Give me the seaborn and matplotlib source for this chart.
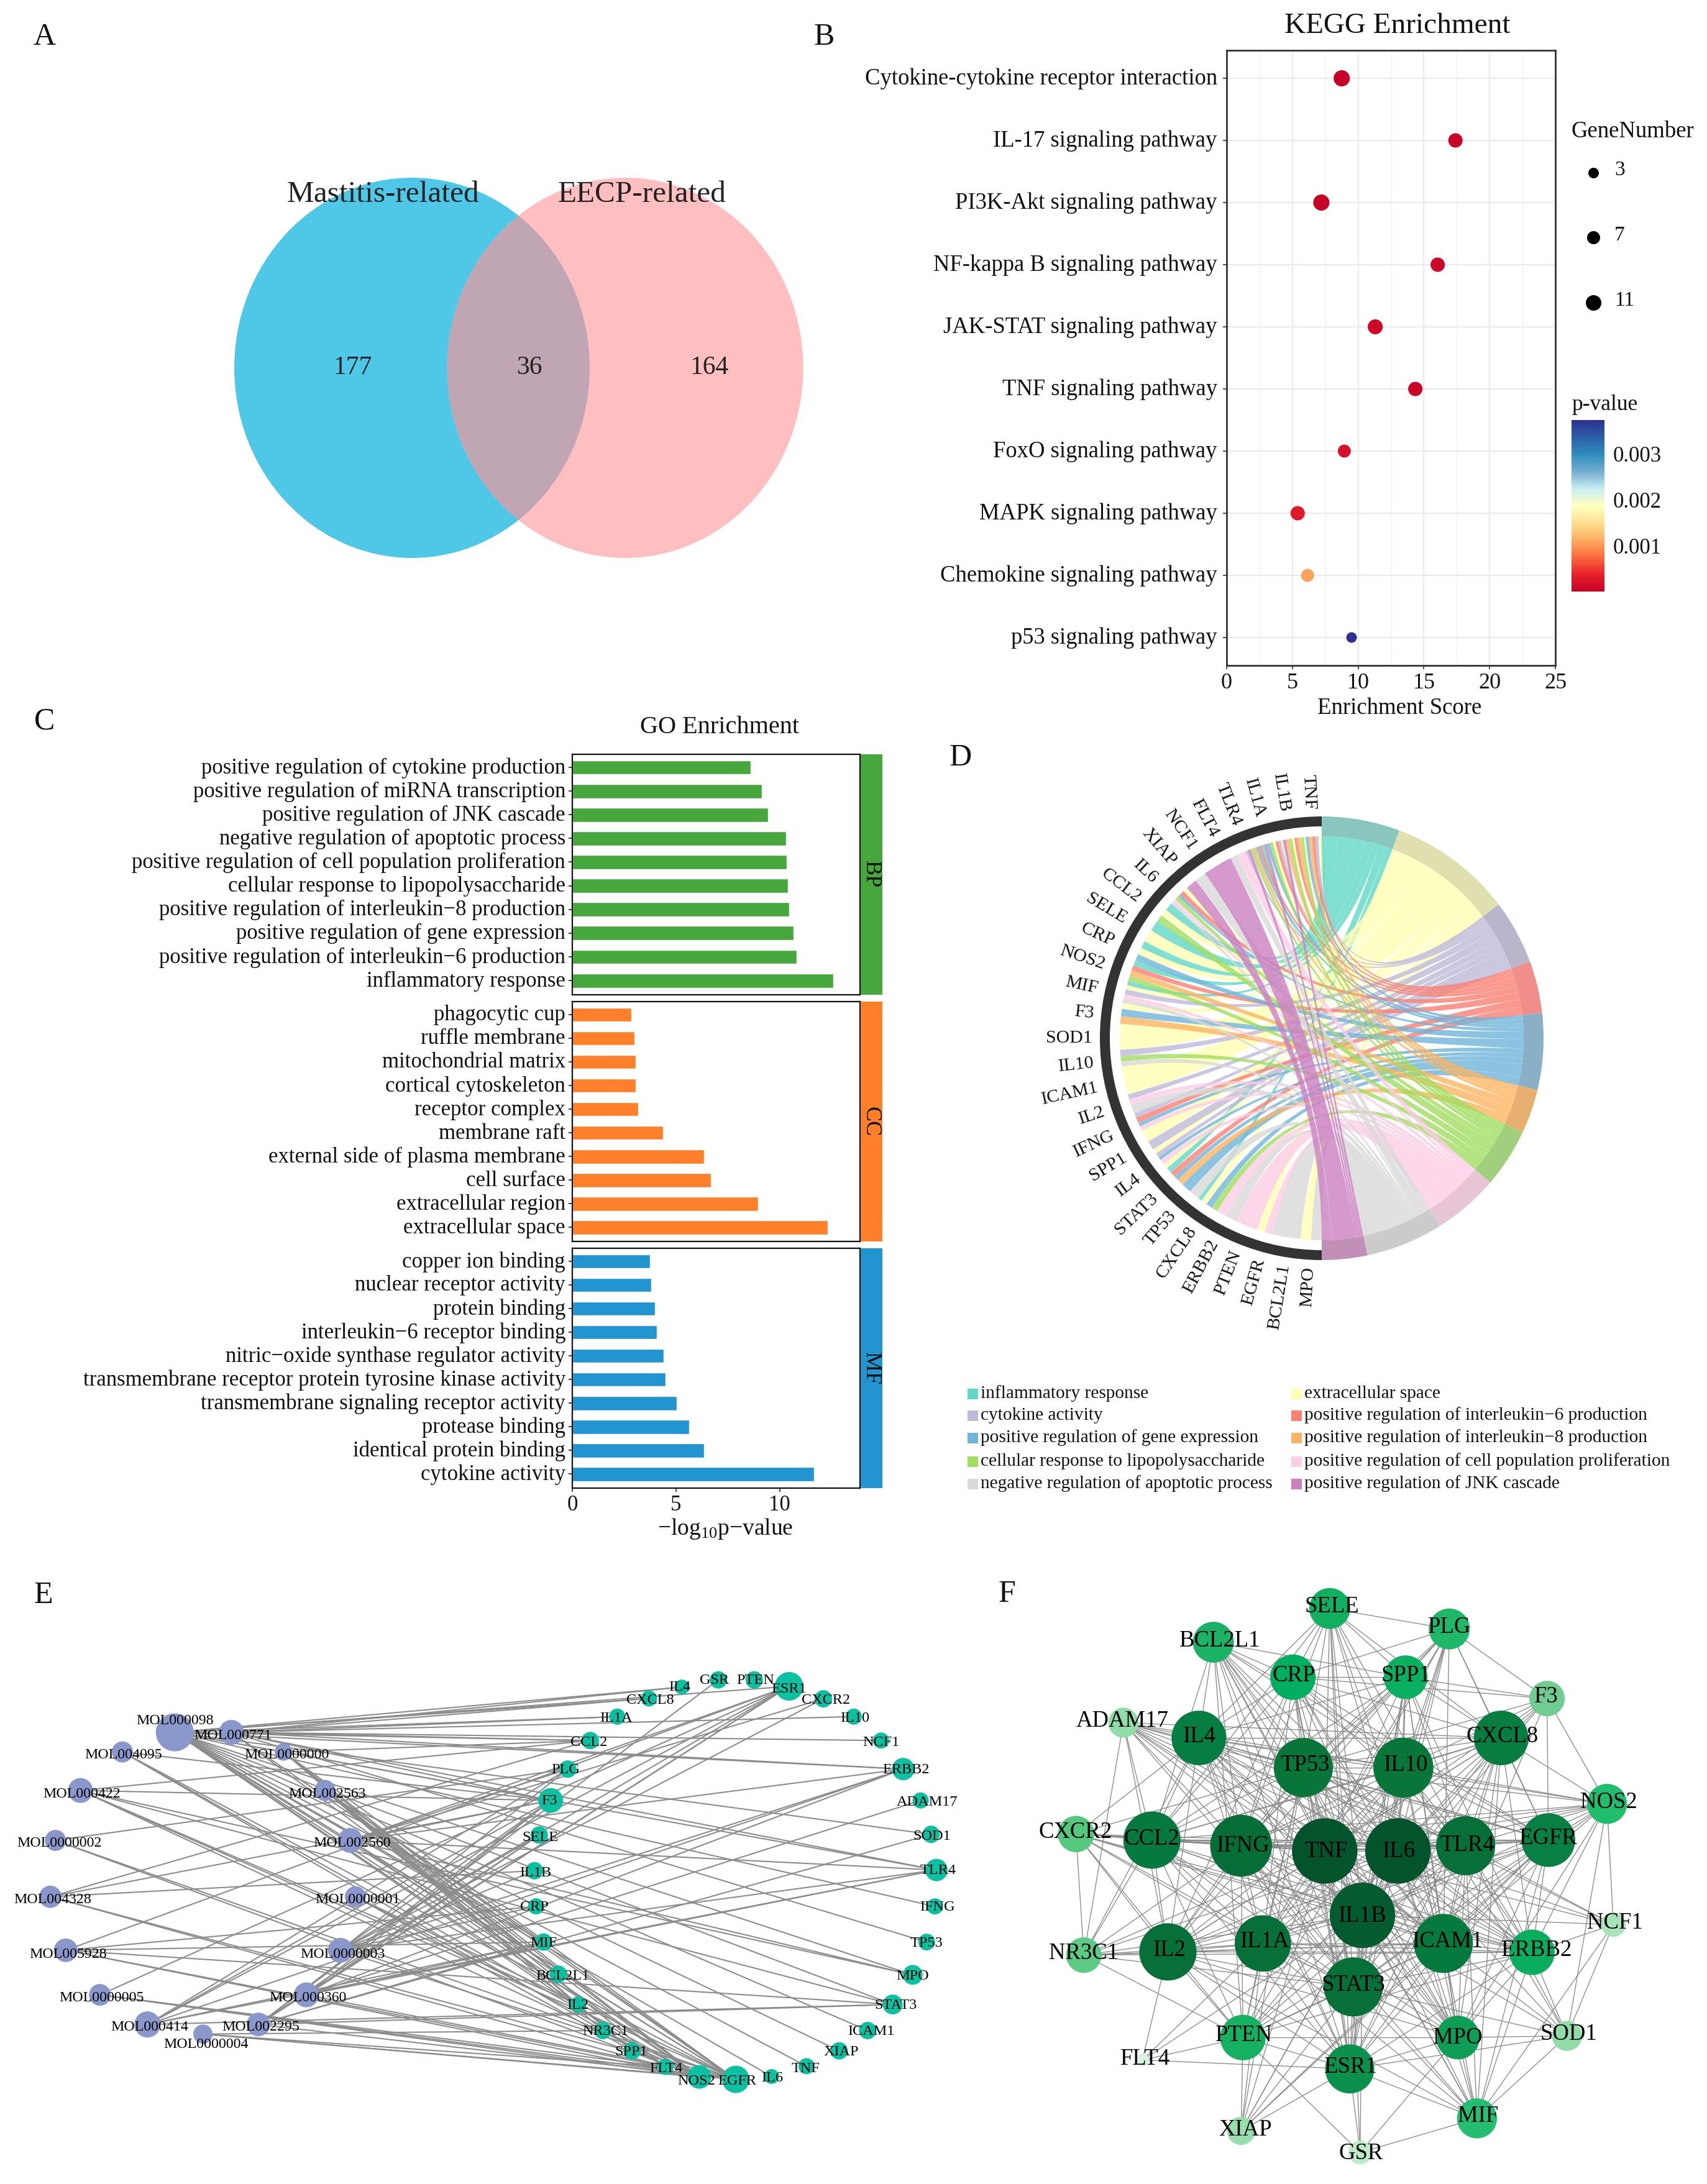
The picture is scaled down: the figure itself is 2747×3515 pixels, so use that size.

import itertools
import numpy as np, pandas as pd
import matplotlib
matplotlib.use('Agg')
import matplotlib.pyplot as plt
import matplotlib as mpl
from matplotlib.patches import Ellipse, Wedge, PathPatch, Rectangle
from matplotlib.path import Path
from matplotlib.collections import LineCollection
from matplotlib.colors import LinearSegmentedColormap, Normalize
from matplotlib.transforms import ScaledTranslation
import seaborn as sns

sns.set_theme(style='white')
plt.rcParams['font.family'] = ['Liberation Serif', 'DejaVu Sans']
plt.rcParams['mathtext.default'] = 'regular'
plt.rcParams['axes.unicode_minus'] = True

W, H = 2747, 3515
# ---------- data ----------
VENN_NAMES = ['Mastitis-related', 'EECP-related']
VENN_COUNTS = [177, 36, 164]

KEGG_TERMS = ['Cytokine-cytokine receptor interaction', 'IL-17 signaling pathway', 'PI3K-Akt signaling pathway',
              'NF-kappa B signaling pathway', 'JAK-STAT signaling pathway', 'TNF signaling pathway',
              'FoxO signaling pathway', 'MAPK signaling pathway', 'Chemokine signaling pathway', 'p53 signaling pathway']
KEGG_SCORE = [8.75, 17.4, 7.2, 16.05, 11.3, 14.35, 8.95, 5.4, 6.15, 9.5]
KEGG_GENES = [11, 8, 11, 8, 9, 8, 6, 8, 6, 3]
KEGG_P = [0.00001, 0.00005, 0.00002, 0.00008, 0.00009, 0.00006, 0.00018, 0.00028, 0.00105, 0.00373]

BP_TERMS = ['positive regulation of cytokine production', 'positive regulation of miRNA transcription',
            'positive regulation of JNK cascade', 'negative regulation of apoptotic process',
            'positive regulation of cell population proliferation', 'cellular response to lipopolysaccharide',
            'positive regulation of interleukin\u22128 production', 'positive regulation of gene expression',
            'positive regulation of interleukin\u22126 production', 'inflammatory response']
BP_VALUES = [8.6, 9.15, 9.45, 10.3, 10.33, 10.4, 10.47, 10.66, 10.83, 12.6]
CC_TERMS = ['phagocytic cup', 'ruffle membrane', 'mitochondrial matrix', 'cortical cytoskeleton', 'receptor complex',
            'membrane raft', 'external side of plasma membrane', 'cell surface', 'extracellular region',
            'extracellular space']
CC_VALUES = [2.85, 3.0, 3.05, 3.07, 3.19, 4.38, 6.37, 6.68, 8.95, 12.33]
MF_TERMS = ['copper ion binding', 'nuclear receptor activity', 'protein binding', 'interleukin\u22126 receptor binding',
            'nitric\u2212oxide synthase regulator activity', 'transmembrane receptor protein tyrosine kinase activity',
            'transmembrane signaling receptor activity', 'protease binding', 'identical protein binding',
            'cytokine activity']
MF_VALUES = [3.74, 3.82, 3.99, 4.07, 4.4, 4.49, 5.04, 5.65, 6.37, 11.66]

CHORD_GENES = ['TNF', 'IL1B', 'IL1A', 'TLR4', 'FLT4', 'NCF1', 'XIAP', 'IL6', 'CCL2', 'SELE', 'CRP', 'NOS2', 'MIF', 'F3',
               'SOD1', 'IL10', 'ICAM1', 'IL2', 'IFNG', 'SPP1', 'IL4', 'STAT3', 'TP53', 'CXCL8', 'ERBB2', 'PTEN', 'EGFR',
               'BCL2L1', 'MPO']
CHORD_ORDER = ['teal', 'yellow', 'lav', 'red', 'blue', 'orange', 'green', 'pink', 'gray', 'purple']
CHORD_NAMES = {'teal': 'inflammatory response', 'yellow': 'extracellular space', 'lav': 'cytokine activity',
               'red': 'positive regulation of interleukin\u22126 production', 'blue': 'positive regulation of gene expression',
               'orange': 'positive regulation of interleukin\u22128 production', 'green': 'cellular response to lipopolysaccharide',
               'pink': 'positive regulation of cell population proliferation', 'gray': 'negative regulation of apoptotic process',
               'purple': 'positive regulation of JNK cascade'}
CHORD_COLOR = {'teal': '#5FD8C5', 'yellow': '#FFFFB3', 'lav': '#BEB9DA', 'red': '#FB8072', 'blue': '#6FB5DA',
               'orange': '#FDB462', 'green': '#A0DE60', 'pink': '#FCCDE5', 'gray': '#D9D9D9', 'purple': '#CC80C2'}
CHORD_BAND = {'teal': '#89C6BE', 'yellow': '#E0DFB0', 'lav': '#BAB5CB', 'red': '#F08F8A', 'blue': '#8AB0C8',
              'orange': '#E8B070', 'green': '#A2CF7D', 'pink': '#E8C5D5', 'gray': '#CBCBCB', 'purple': '#C190B8'}
CHORD_TERM_ENDS = [20.5, 52.9, 69.8, 83.4, 103.5, 115.1, 130.6, 147.8, 168.1, 180.0]
CHORD_SEGMENTS = [
 ('yellow',.9),('lav',.9),('red',.9),('orange',.9),('blue',.9),('yellow',.5),('green',.9),('orange',.9),('red',.9),
 ('yellow',.6),('green',.9),('orange',.9),('purple',.9),('yellow',.5),('lav',.7),('red',.9),('yellow',.7),('green',.9),
 ('blue',.9),('purple',.8),('teal',.8),('red',.8),('blue',.8),('orange',.8),('green',.8),('purple',.9),('lav',.6),
 ('pink',2.4),('gray',2.2),('purple',8.3),('gray',3.3),('purple',3.2),('yellow',1.3),('red',1.3),('blue',.8),('green',1.1),
 ('pink',.9),('gray',.8),('teal',2.3),('yellow',2),('green',2),('teal',3.1),('yellow',3.5),('teal',2.1),('yellow',2),
 ('blue',1.8),('teal',1.6),('red',1.5),('orange',1.6),('green',1.5),('teal',1.2),('yellow',1.2),('lav',1.5),('pink',1.2),
 ('gray',1.2),('yellow',1.7),('blue',2.1),('orange',2.1),('yellow',7.3),('lav',1.8),('green',1.5),('gray',1.4),('yellow',8),
 ('lav',1.5),('pink',1.6),('gray',2.5),('lav',1.3),('red',1.6),('blue',1.1),('pink',1.3),('yellow',3.5),('lav',2.6),
 ('yellow',1.4),('lav',1.2),('blue',1),('pink',1.4),('yellow',1.5),('teal',1.6),('red',1.6),('blue',1.3),('orange',1.9),
 ('blue',2.8),('gray',3),('teal',1.1),('yellow',1.7),('blue',1.8),('green',1.8),('pink',2.9),('gray',3.1),('pink',6.3),
 ('yellow',2.3),('pink',2.1),('gray',8),('yellow',3),('gray',3)]

MOL_NAMES = ['MOL000098','MOL000771','MOL004095','MOL0000000','MOL000422','MOL002563','MOL0000002','MOL002560','MOL004328',
             'MOL0000001','MOL005928','MOL0000003','MOL0000005','MOL000360','MOL000414','MOL002295','MOL0000004']
MOL_ZX = [441,584,309,715,203,820,140,884,127,897,166,859,252,773,372,652,512]
MOL_ZY = [467,467,522,522,630,630,770,770,928,928,1078,1078,1203,1203,1286,1286,1313]
MOL_D = [61,40,34,28,40,34,34,40,36,34,38,40,35,40,42,38,31]
MOL_LZX = [441,587,312,723,207,825,150,889,133,903,172,865,257,777,378,658,520]
MOL_LZY = [434,476,530,530,640,640,778,778,937,937,1089,1089,1212,1212,1293,1293,1343]
GENE_NAMES = ['IL4','GSR','PTEN','ESR1','CXCR2','IL10','NCF1','ERBB2','ADAM17','SOD1','TLR4','IFNG','TP53','MPO','STAT3','ICAM1',
              'XIAP','TNF','IL6','EGFR','NOS2','FLT4','SPP1','NR3C1','IL2','BCL2L1','MIF','CRP','IL1B','SELE','F3','PLG','CCL2','IL1A','CXCL8']
GENE_ZX = [622,737,850,960,1068,1164,1250,1320,1375,1408,1425,1420,1394,1350,1287,1208,1118,1015,905,792,677,570,465,373,295,232,186,162,157,172,208,262,333,418,518]
GENE_ZY = [340,320,320,338,373,423,490,570,658,753,853,955,1055,1147,1230,1303,1360,1403,1432,1440,1433,1405,1360,1303,1230,1145,1055,955,855,755,658,570,490,423,372]
GENE_D = [24,28,28,46,28,26,26,36,26,28,36,26,27,32,32,28,28,26,24,44,38,26,28,28,26,28,28,26,28,28,40,28,28,26,26]
GENE_LZX = [615,725,853,960,1077,1167,1250,1328,1395,1410,1430,1427,1394,1350,1297,1218,1124,1013,907,797,668,572,462,380,294,245,185,157,160,176,204,256,328,415,522]
GENE_LZY = [340,322,322,345,377,427,495,573,662,759,855,957,1059,1150,1233,1305,1363,1410,1437,1445,1445,1410,1363,1305,1232,1151,1058,957,862,762,660,573,495,427,377]
E_LINKS = {
 'MOL000098':'IL4 CXCL8 IL1A CCL2 ESR1 F3 ERBB2 SOD1 TLR4 IFNG MPO STAT3 ICAM1 XIAP TNF IL6 EGFR NOS2 FLT4 BCL2L1 IL2 MIF',
 'MOL000771':'IL4 IL1A CXCL8 IL10 NCF1 ERBB2 F3 TLR4 TP53 EGFR NOS2 CCL2',
 'MOL004095':'NOS2 EGFR F3 FLT4',
 'MOL0000000':'CCL2 EGFR NOS2 SPP1 BCL2L1',
 'MOL000422':'CCL2 F3 MPO STAT3 NOS2 EGFR IL2',
 'MOL002563':'EGFR NOS2 FLT4 NR3C1 SPP1 MIF IL2 BCL2L1',
 'MOL0000002':'PLG EGFR NOS2',
 'MOL002560':'ESR1 PLG CXCR2 TLR4 MPO ERBB2 F3 EGFR NOS2',
 'MOL004328':'CCL2 F3 IL1B EGFR FLT4',
 'MOL0000001':'NOS2 SPP1 EGFR',
 'MOL005928':'ESR1 MIF CRP NOS2 STAT3 FLT4',
 'MOL0000003':'ESR1 CXCR2 F3 PLG SELE IL1B CRP TLR4 ERBB2 EGFR',
 'MOL0000005':'ESR1 EGFR NOS2 FLT4',
 'MOL000360':'ESR1 F3 SELE MIF TLR4 ERBB2 ADAM17 EGFR',
 'MOL000414':'ESR1 PLG F3 MIF TLR4 ERBB2 STAT3',
 'MOL002295':'ESR1 GSR F3 SELE MIF SOD1 STAT3 EGFR',
 'MOL0000004':'EGFR NOS2 NR3C1 FLT4'}

F_NAMES = ['SELE','PLG','BCL2L1','CRP','SPP1','F3','ADAM17','IL4','TP53','IL10','CXCL8','NOS2','CXCR2','CCL2','IFNG','TNF','IL6','TLR4','EGFR','IL1B','NCF1','IL1A','IL2','ICAM1','ERBB2','NR3C1','STAT3','PTEN','MPO','ESR1','SOD1','FLT4','XIAP','MIF','GSR']
F_ZX = [738,1001,482,657,905,1216,284,450,680,900,1115,1348,180,347,543,727,888,1037,1219,810,1362,591,382,988,1183,197,790,547,1020,782,1260,326,543,1062,805]
F_ZY = [137,188,221,308,308,361,421,459,533,533,459,623,698,713,727,740,740,727,713,900,923,970,991,970,992,999,1078,1204,1204,1282,1200,1260,1436,1405,1490]
F_ZW = [90,90,90,100,96,78,66,120,130,132,120,88,80,126,136,144,144,130,118,144,54,124,126,130,100,78,130,100,96,108,66,28,62,88,52]
F_COL = ['#10B060','#1FB868','#1BB265','#00AE60','#08B060','#70CC90','#90DDA8','#067E42','#087539','#087539','#077E40','#20BE6C','#55C87F','#067A3E','#056D36','#03532C','#03532C','#076F38','#088043','#045B2F','#A8E4B8','#076F38','#067038','#067A3E','#08AD5D','#5CCB86','#076F38','#15B060','#0F9E55','#0B914C','#8FDCA6','#D6F2DC','#96DFAC','#25BE70','#BDEBC8']
F_LZX = [743,1002,497,659,905,1214,282,452,683,905,1118,1352,179,347,547,730,890,1040,1219,810,1366,595,385,997,1193,197,790,550,1020,785,1264,332,552,1064,807]
F_LZY = [133,184,217,304,304,357,417,455,527,527,455,619,693,710,727,741,741,726,709,902,919,965,987,965,987,995,1074,1199,1204,1278,1195,1257,1434,1400,1492]
F_CORE = ['IL4','TP53','IL10','CXCL8','CCL2','IFNG','TNF','IL6','TLR4','EGFR','IL1B','IL1A','IL2','ICAM1','STAT3','ESR1','MPO','ERBB2']
F_LINKS = {
 'SELE':'PLG CRP SPP1 IL4 TP53 IL10 TNF IL6 IL1B ICAM1 STAT3 IFNG TLR4 CXCL8 CCL2 ESR1',
 'PLG':'CRP SPP1 F3 CXCL8 IL10 TNF IL6 IL1B TP53 IFNG STAT3 ICAM1 IL1A EGFR',
 'BCL2L1':'CRP SPP1 IL4 TP53 IL10 TNF IL6 IL1B STAT3 ICAM1 CCL2 IFNG PTEN ESR1 EGFR ERBB2 MPO',
 'CRP':'SPP1 IL4 IL10 TP53 TNF IL6 IL1B IFNG TLR4 CXCL8 STAT3 ICAM1 IL1A IL2 CCL2 MPO ESR1 EGFR F3',
 'SPP1':'IL10 TP53 CXCL8 TNF IL6 IL1B IFNG TLR4 IL4 ICAM1 STAT3 IL2 CCL2 MPO ESR1 ERBB2 F3',
 'F3':'CXCL8 IL10 TP53 TNF IL6 IL1B EGFR NOS2 ICAM1',
 'ADAM17':'IL4 TP53 IL10 CCL2 IFNG TNF IL6 IL1B CXCL8 TLR4 EGFR ERBB2 ICAM1 IL2 STAT3',
 'NOS2':'CXCL8 IL10 TP53 TNF IL6 TLR4 EGFR IL1B ERBB2 ICAM1 STAT3 IL4 IFNG NCF1 SOD1 MPO CCL2',
 'CXCR2':'CCL2 IL4 IFNG TNF IL6 IL1B TP53 IL1A IL2 ICAM1 TLR4 STAT3 PTEN ERBB2',
 'NCF1':'TNF IL6 IL1B ERBB2 SOD1 MIF TP53 TLR4',
 'NR3C1':'IL2 IL1A ICAM1 IL1B TNF IL6 CCL2 IFNG STAT3 CXCR2 ADAM17 ERBB2 IL4 PTEN',
 'PTEN':'IL2 IL1A IFNG TNF IL6 IL1B STAT3 ESR1 ICAM1 XIAP FLT4 GSR TP53 IL10 TLR4 EGFR ERBB2 MPO CCL2',
 'FLT4':'IL1A IL1B IL2 ESR1',
 'XIAP':'ESR1 STAT3 IL1B TNF IL1A TP53 EGFR IL6 ICAM1',
 'GSR':'ESR1 MPO STAT3 IL1B MIF',
 'MIF':'ESR1 MPO STAT3 ICAM1 ERBB2 IL1B TNF IL6 IFNG TLR4 IL1A SOD1 CXCL8 IL2 TP53 EGFR',
 'SOD1':'ERBB2 MPO ESR1 IL1B TNF TLR4 IL6 IL10 STAT3'}

# ---------- helpers ----------
fig = plt.figure(figsize=(W/100, H/100), dpi=100, facecolor='white')

def rect(x0, y0, x1, y1):
    return [x0/W, 1-y1/H, (x1-x0)/W, (y1-y0)/H]

def panel(x0, y0, x1, y1):
    a = fig.add_axes(rect(x0, y0, x1, y1))
    a.set_xlim(x0, x1); a.set_ylim(y1, y0); a.axis('off')
    a.patch.set_alpha(0)
    return a

def nodes(a, xs, ys, ds, colors):
    lim = a.get_xlim(), a.get_ylim()
    areas = [(d*0.72)**2 for d in ds]
    df = pd.DataFrame({'x': xs, 'y': ys, 'area': areas, 'k': range(len(xs))})
    sns.scatterplot(data=df, x='x', y='y', size='area', sizes=(min(areas), max(areas)), size_norm=(min(areas), max(areas)),
                    hue='k', palette=dict(zip(df.k, colors)), legend=False, linewidth=0, ax=a, zorder=3)
    a.set_xlim(*lim[0]); a.set_ylim(*lim[1]); a.axis('off')

def lift_labels(labels, px):
    for lb in labels:
        lb.set_transform(lb.get_transform() + ScaledTranslation(0, px/100, fig.dpi_scale_trans))

TXT = panel(0, 0, W, H)
TXT.set_zorder(10)
for s, x, y in zip('ABCDEF', [72, 1326, 72, 1546, 70, 1620], [60, 60, 1161, 1220, 2568, 2566]):
    TXT.text(x, y, s, fontsize=36, ha='center', va='center', color='#111111')

# ---------- A ----------
axA = panel(300, 200, 1320, 950)
blue = Ellipse((663, 592), 572, 612, fc='#4FC8E8', ec='none'); axA.add_patch(blue)
pink = Ellipse((1006, 592), 573, 612, fc='#FFBEC0', ec='none'); axA.add_patch(pink)
over = Ellipse((1006, 592), 573, 612, fc='#C0A6B2', ec='none'); axA.add_patch(over)
over.set_clip_path(Ellipse((663, 592), 572, 612, transform=axA.transData))
axA.text(616, 313, VENN_NAMES[0], fontsize=35.5, ha='center', va='center', color='#222222')
axA.text(1033, 313, VENN_NAMES[1], fontsize=35.5, ha='center', va='center', color='#222222')
for c, x in zip(VENN_COUNTS, [568, 853, 1141]):
    axA.text(x, 592, str(c), fontsize=30, ha='center', va='center', color='#222222')

# ---------- B ----------
axB = fig.add_axes(rect(1974, 81, 2503, 1071))
cm = LinearSegmentedColormap.from_list('rb', ['#C60026','#E8222A','#FC6A3D','#FDAE61','#FEE090','#FFFFBF','#C8EEF3','#74ADD1','#2F8DBE','#2A5FA8','#2E3192'])
dfB = pd.DataFrame({'term': KEGG_TERMS, 'score': KEGG_SCORE, 'genes': KEGG_GENES, 'p': KEGG_P})
sns.scatterplot(data=dfB, x='score', y='term', size='genes', sizes=((17*.72)**2, (26*.72)**2), size_norm=(3, 11),
                hue='p', palette=cm, hue_norm=(0, 0.00373), legend=False, linewidth=0, ax=axB, zorder=3)
axB.set_xlim(0, 25); axB.set_ylim(9.45, -0.45)
axB.set_xticks(range(0, 30, 5)); axB.set_xticks(np.arange(2.5, 25, 5), minor=True)
axB.grid(True, which='major', color='#EBEBEB', lw=1.6); axB.grid(True, which='minor', axis='x', color='#F0F0F0', lw=0.9)
axB.set_axisbelow(True)
axB.set_xlabel(''); axB.set_ylabel('')
axB.tick_params(axis='both', which='major', length=4, width=1.2, color='#333333', labelsize=26.4, labelcolor='#111111', pad=7, bottom=True, left=True)
axB.tick_params(axis='x', labelsize=26, pad=5)
axB.tick_params(axis='x', which='minor', length=0)
lift_labels(axB.get_yticklabels(), 3)
for sp in axB.spines.values():
    sp.set_color('#333333'); sp.set_linewidth(2)
TXT.text(2249, 42, 'KEGG Enrichment', fontsize=34, ha='center', va='center', color='#111111')
TXT.text(2252, 1140, 'Enrichment Score', fontsize=26.5, ha='center', va='center', color='#111111')
TXT.text(2529, 212, 'GeneNumber', fontsize=26.5, ha='left', va='center', color='#111111')
for g, yd, yt in zip([3, 7, 11], [278, 382, 487], [274, 379, 484]):
    TXT.scatter([2564], [yd], s=((14+g)*.72)**2, color='black', linewidths=0)
    TXT.text(2598, yt, str(g), fontsize=24, ha='left', va='center', color='#111111')
TXT.text(2529, 652, 'p-value', fontsize=25.5, ha='left', va='center', color='#111111')
cax = fig.add_axes(rect(2529, 676, 2582, 952))
cb = mpl.colorbar.ColorbarBase(cax, cmap=cm, norm=Normalize(0, 0.00373), orientation='vertical')
cb.outline.set_visible(False)
cb.set_ticks([0.001, 0.002, 0.003]); cb.set_ticklabels(['0.001', '0.002', '0.003'])
cax.tick_params(length=0, labelsize=25, pad=10, labelcolor='#111111')

# ---------- C ----------
GO = [(BP_TERMS, BP_VALUES, '#46A83C', 'BP', 1214, 1601), (CC_TERMS, CC_VALUES, '#FF7F2A', 'CC', 1612, 1998),
      (MF_TERMS, MF_VALUES, '#2294D0', 'MF', 2009, 2395)]
for terms, vals, col, tag, y0, y1 in GO:
    a = fig.add_axes(rect(921, y0, 1384, y1))
    sns.barplot(x=vals, y=terms, color=col, saturation=1, width=0.6, orient='h', ax=a)
    a.set_xlim(0, 13.88); a.set_ylim(9.6, -0.55)
    a.set_xlabel(''); a.set_ylabel('')
    a.tick_params(axis='y', left=True, length=4, width=1.2, color='#222222', labelsize=25, pad=4, labelcolor='#111111')
    lift_labels(a.get_yticklabels(), 3)
    for sp in a.spines.values():
        sp.set_color('#111111'); sp.set_linewidth(1.6)
    if tag == 'MF':
        a.set_xticks([0, 5, 10])
        a.tick_params(axis='x', bottom=True, length=4, width=1.2, color='#222222', labelsize=25, pad=4, labelcolor='#111111')
    else:
        a.set_xticks([])
    TXT.add_patch(Rectangle((1385, y0), 35, y1-y0, fc=col, ec='none'))
    TXT.text(1401, (y0+y1)/2, tag, fontsize=26, rotation=-90, ha='center', va='center', color='#111111')
TXT.text(1158, 1171, 'GO Enrichment', fontsize=29, ha='center', va='center', color='#111111')
TXT.text(1167, 2460, '\u2212log$_{10}$p\u2212value', fontsize=27, ha='center', va='center', color='#111111')

# ---------- D ----------
CX, CY, R0, R1 = 2127, 1671, 325, 357
axD = panel(1640, 1180, 2620, 2160)
def right_pt(deg, r=R0):
    t = np.deg2rad(deg); return (CX+r*np.sin(t), CY-r*np.cos(t))
def left_pt(deg, r=R0):
    t = np.deg2rad(deg); return (CX-r*np.sin(t), CY-r*np.cos(t))
seg_total = sum(w for _, w in CHORD_SEGMENTS)
pos = 0.0; links = {k: [] for k in CHORD_ORDER}
for term, w in CHORD_SEGMENTS:
    w2 = w/seg_total*180
    links[term].append((pos, pos+w2)); pos += w2
start = 0.0
for term, end in zip(CHORD_ORDER, CHORD_TERM_ENDS):
    total = sum(b-a for a, b in links[term]); scale = (end-start)/total; th = start
    for a, b in links[term]:
        th1 = th+(b-a)*scale
        verts = [right_pt(th)]; codes = [Path.MOVETO]
        verts += [(CX, CY), left_pt(a)]; codes += [Path.CURVE3, Path.CURVE3]
        for d in np.linspace(a, b, 6)[1:]:
            verts.append(left_pt(d)); codes.append(Path.LINETO)
        verts += [(CX, CY), right_pt(th1)]; codes += [Path.CURVE3, Path.CURVE3]
        for d in np.linspace(th1, th, 6)[1:]:
            verts.append(right_pt(d)); codes.append(Path.LINETO)
        axD.add_patch(PathPatch(Path(verts, codes), fc=CHORD_COLOR[term], ec='none', alpha=0.8))
        th = th1
    axD.add_patch(Wedge((CX, CY), R1, start-90, end-90, width=R1-R0, fc=CHORD_BAND[term], ec='none'))
    start = end
axD.add_patch(Wedge((CX, CY), R1, 90, 270, width=16, fc='#333333', ec='none'))
step = 180/len(CHORD_GENES)
for i, g in enumerate(CHORD_GENES):
    phi = (i+.5)*step
    x, y = left_pt(phi, R1+12)
    axD.text(x, y, g, fontsize=21.5, rotation=phi-90, rotation_mode='anchor', ha='right', va='center', color='#111111')
LEG_COLS = [(['teal', 'lav', 'blue', 'green', 'gray'], 1557), (['yellow', 'red', 'orange', 'pink', 'purple'], 2078)]
LEG_Y = [2243, 2278, 2314, 2352, 2388]
for keys, x in LEG_COLS:
    for k, y in zip(keys, LEG_Y):
        TXT.add_patch(Rectangle((x, y-8), 17, 17, fc=CHORD_COLOR[k], ec='none'))
        TXT.text(x+21, y, CHORD_NAMES[k], fontsize=21.2, ha='left', va='center', color='#111111')

# ---------- E ----------
axE = panel(0, 2600, 1600, 3450)
mx = [v/1.568 for v in MOL_ZX]; my = [2520+v/1.742 for v in MOL_ZY]
gx = [780+v/1.96 for v in GENE_ZX]; gy = [2520+v/1.742 for v in GENE_ZY]
mp = dict(zip(MOL_NAMES, zip(mx, my))); gp = dict(zip(GENE_NAMES, zip(gx, gy)))
segsE = [[mp[m], gp[g]] for m, s in E_LINKS.items() for g in s.split()]
axE.add_collection(LineCollection(segsE, colors='#8C8C8C', linewidths=1.5, zorder=1))
nodes(axE, mx, my, MOL_D, ['#8A97CB']*len(mx))
nodes(axE, gx, gy, GENE_D, ['#0CC0A2']*len(gx))
for n, x, y in zip(MOL_NAMES, MOL_LZX, MOL_LZY):
    axE.text(x/1.568, 2520+y/1.742, n, fontsize=17.2, ha='center', va='center', color='black', zorder=5)
for n, x, y in zip(GENE_NAMES, GENE_LZX, GENE_LZY):
    axE.text(780+x/1.96, 2520+y/1.742, n, fontsize=17.5, ha='center', va='center', color='black', zorder=5)

# ---------- F ----------
axF = panel(1620, 2500, 2700, 3515)
fx = [1600+v/1.367 for v in F_ZX]; fy = [2500+v/1.545 for v in F_ZY]
fp = dict(zip(F_NAMES, zip(fx, fy)))
segsF = [[fp[a], fp[b]] for a, b in itertools.combinations(F_CORE, 2)]
segsF += [[fp[a], fp[b]] for a, s in F_LINKS.items() for b in s.split()]
axF.add_collection(LineCollection(segsF, colors='#8A8A8A', linewidths=0.95, zorder=1))
nodes(axF, fx, fy, [v/1.367 for v in F_ZW], F_COL)
for n, x, y in zip(F_NAMES, F_LZX, F_LZY):
    axF.text(1600+x/1.367, 2500+y/1.545, n, fontsize=26.5, ha='center', va='center', color='black', zorder=5)

fig.savefig('out.png', dpi=100, facecolor='white')
